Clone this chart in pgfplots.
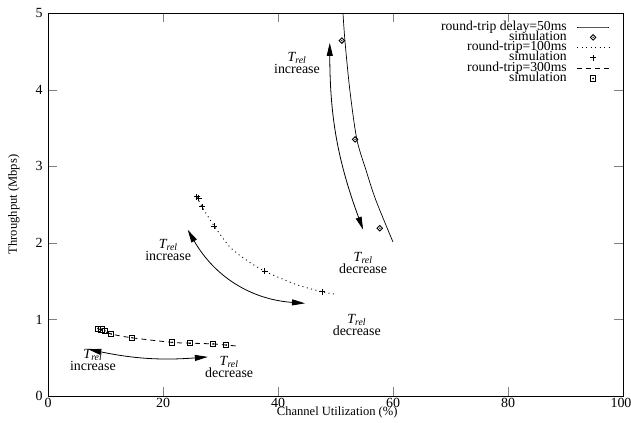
\documentclass[border=0pt]{standalone}
\usepackage{pgfplots}
\pgfplotsset{compat=1.18}
\usepackage{fontspec}
\setmainfont{Liberation Serif}
\usetikzlibrary{arrows.meta}
\newcommand\Trel{\textit{T}\textsubscript{\kern-0.08em\textit{rel}}}
\pgfdeclareplotmark{sqdot}{%
  \pgfpathrectangle{\pgfpoint{-\pgfplotmarksize}{-\pgfplotmarksize}}{\pgfpoint{2\pgfplotmarksize}{2\pgfplotmarksize}}%
  \pgfusepathqstroke
  \pgfpathcircle{\pgfpointorigin}{0.35\pgfplotmarksize}\pgfusepathqfill}
\pgfdeclareplotmark{diadot}{%
  \pgfpathmoveto{\pgfpoint{0pt}{1.3\pgfplotmarksize}}%
  \pgfpathlineto{\pgfpoint{1.3\pgfplotmarksize}{0pt}}%
  \pgfpathlineto{\pgfpoint{0pt}{-1.3\pgfplotmarksize}}%
  \pgfpathlineto{\pgfpoint{-1.3\pgfplotmarksize}{0pt}}%
  \pgfpathclose\pgfusepathqstroke
  \pgfpathcircle{\pgfpointorigin}{0.35\pgfplotmarksize}\pgfusepathqfill}
\begin{document}
\begin{tikzpicture}
\begin{axis}[
  scale only axis, width=575bp, height=383bp,
  xmin=0, xmax=100, ymin=0, ymax=5,
  xtick={0,20,...,100}, ytick={0,1,...,5},
  xticklabels={0,20,40,60,80,\hspace*{-4bp}100},
  tick align=inside, major tick length=9bp,
  /pgf/number format/assume math mode=true,
  tick label style={font=\fontsize{14}{14}\selectfont},
  xticklabel style={yshift=1bp},
  yticklabel style={xshift=-2bp},
  axis line style={line width=0.8pt},
  xlabel={Channel Utilization (\%)},
  ylabel={Throughput (Mbps)},
  label style={font=\fontsize{12.6}{12.6}\selectfont},
  xlabel style={at={(axis description cs:0.503,0)}, anchor=north, yshift=-7bp},
  ylabel style={at={(axis description cs:0,0.5)}, anchor=south, yshift=25bp},
  legend plot pos=right,
  legend cell align=right,
  legend image code/.code={\draw[mark repeat=2,mark phase=2,#1] plot coordinates {(0bp,0bp) (16bp,0bp) (32bp,0bp)};},
  legend style={draw=none, fill=none, at={(axis description cs:0.977,0.977)}, anchor=north east,
    font=\fontsize{13.7}{10}\selectfont, row sep=0.3bp, column sep=10bp, inner sep=0pt,
    nodes={inner sep=0pt, text height=8bp, text depth=2bp, font=\fontsize{13.7}{10}\selectfont}},
]
\addplot[black, line width=0.7pt, smooth] coordinates {
 (51.3,5.0) (51.65,4.63) (52.5,3.99) (53.7,3.355) (55.3,2.95) (57.0,2.56) (60.0,2.01)};
\addlegendentry{round-trip delay=50ms}
\addplot[black, only marks, mark=diadot, mark size=2.1pt, mark options={line width=0.9pt}] coordinates {
 (51.1,4.64) (53.4,3.35) (57.7,2.19)};
\addlegendentry{simulation}
\addplot[black, line width=0.9pt, dash pattern=on 1pt off 3.5pt, smooth] coordinates {
 (25.9,2.60) (26.8,2.47) (28.9,2.22) (31.7,1.94) (34.6,1.77) (37.7,1.63) (43.0,1.46) (47.7,1.36) (49.9,1.33)};
\addlegendentry{round-trip=100ms}
\addplot[black, only marks, mark=+, mark size=3pt, mark options={line width=0.9pt}] coordinates {
 (25.9,2.60) (26.2,2.58) (26.8,2.47) (28.9,2.22) (37.7,1.63) (47.7,1.36)};
\addlegendentry{simulation}
\addplot[black, line width=0.8pt, dash pattern=on 5pt off 4pt, smooth] coordinates {
 (8.7,0.88) (11.0,0.81) (14.6,0.76) (21.6,0.70) (24.7,0.69) (28.7,0.68) (31.0,0.665) (33.2,0.65)};
\addlegendentry{round-trip=300ms}
\addplot[black, only marks, mark=sqdot, mark size=2.6pt, mark options={line width=0.9pt}] coordinates {
 (8.7,0.88) (9.3,0.87) (9.9,0.85) (11.0,0.81) (14.6,0.76) (21.6,0.70) (24.7,0.69) (28.7,0.68) (31.0,0.665)};
\addlegendentry{simulation}
% arrows
\draw[line width=0.8pt, {Triangle[length=13bp,width=6bp]}-{Triangle[length=13bp,width=6bp]}]
  (axis cs:49.0,4.61) to[bend right=10] (axis cs:54.8,2.17);
\draw[line width=0.8pt, {Triangle[length=13bp,width=6bp]}-{Triangle[length=13bp,width=6bp]}]
  (axis cs:24.3,2.17) to[bend right=28] (axis cs:44.7,1.21);
\draw[line width=0.8pt, {Triangle[length=13bp,width=6bp]}-{Triangle[length=13bp,width=6bp]}]
  (axis cs:7.0,0.61) to[bend right=8] (axis cs:27.8,0.51);
\begin{scope}[every node/.style={align=center, font=\fontsize{14}{12}\selectfont, inner sep=0pt}]
\node at (axis cs:43.3,4.35) {\Trel\\increase};
\node at (axis cs:54.8,1.74) {\Trel\\decrease};
\node at (axis cs:20.9,1.91) {\Trel\\increase};
\node at (axis cs:53.7,0.93) {\Trel\\decrease};
\node at (axis cs:7.8,0.47) {\Trel\\increase};
\node at (axis cs:31.5,0.38) {\Trel\\decrease};
\end{scope}
\end{axis}
\pgfresetboundingbox
\path (-48bp,-27bp) rectangle (583bp,396bp);
\end{tikzpicture}
\end{document}
